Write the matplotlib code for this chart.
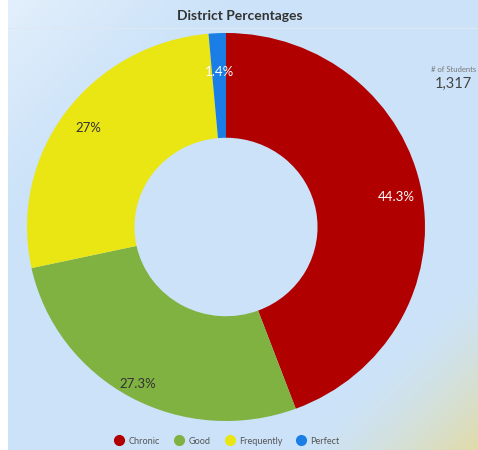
import numpy as np
import matplotlib.pyplot as plt
from matplotlib.lines import Line2D

labels = ['Chronic', 'Good', 'Frequently', 'Perfect']
values = [44.3, 27.3, 27.0, 1.4]
pct_labels = ['44.3%', '27.3%', '27%', '1.4%']
colors = ['#b00000', '#7fb241', '#e9e613', '#1a7ee6']
text_colors = ['white', '#333333', '#333333', 'white']
students = '1,317'

plt.rcParams['font.family'] = ['Lato', 'DejaVu Sans']

fig = plt.figure(figsize=(4.78, 4.5), dpi=100)

# background gradient panel
bg = fig.add_axes([8 / 478, 0, 1 - 8 / 478, 1])
h, w = 225, 235
yy, xx = np.mgrid[0:1:h * 1j, 0:1:w * 1j]
a = np.clip(0.35 + (xx + yy) / 0.7, 0, 1) ** 0.8
white = np.array([0.96, 0.975, 0.995])
blue = np.array([0.80, 0.89, 0.975])
yellow = np.array([0.88, 0.86, 0.66])
img = white * (1 - a[..., None]) + blue * a[..., None]
b = np.clip((xx + yy - 1.6) / 0.4, 0, 1) ** 1.5
img = img * (1 - b[..., None]) + yellow * b[..., None]
bg.imshow(img, extent=[0, 1, 0, 1], origin='upper', aspect='auto')
bg.axhline(1 - 28 / 450, color='#dfe8f2', lw=0.8)
bg.set_xlim(0, 1)
bg.set_ylim(0, 1)
bg.axis('off')

fig.text(240 / 478, 1 - 16 / 450, 'District Percentages', ha='center', va='center',
         fontsize=10, fontweight='bold', color='#333333')

ax = fig.add_axes([(226 - 199) / 478, (450 - 227 - 194) / 450, 398 / 478, 388 / 450])
wedges, texts = ax.pie(values, colors=colors, startangle=90, counterclock=False,
                       radius=1.0, wedgeprops=dict(width=0.54, edgecolor='none'))
dist = [0.87, 0.92, 0.86, 0.80]
for wdg, lab, tc, d in zip(wedges, pct_labels, text_colors, dist):
    ang = np.deg2rad((wdg.theta1 + wdg.theta2) / 2)
    ax.text(d * np.cos(ang), d * np.sin(ang), lab, ha='center', va='center',
            fontsize=9.5, color=tc)
ax.set_xlim(-1, 1)
ax.set_ylim(-1, 1)
ax.set_aspect('auto')
ax.axis('off')

fig.text(454 / 478, 1 - 70 / 450, '# of Students', ha='center', va='center',
         fontsize=5.5, color='#777777')
fig.text(453 / 478, 1 - 84 / 450, students, ha='center', va='center',
         fontsize=10.5, color='#444444')

handles = [Line2D([], [], marker='o', ls='none', markersize=7, color=c) for c in colors]
fig.legend(handles, labels, loc='center', bbox_to_anchor=(225 / 478, 1 - 441 / 450),
           ncol=4, frameon=False, fontsize=6.6, handletextpad=0.0, columnspacing=1.1,
           labelcolor='#555555')

fig.savefig('out.png', dpi=100)
